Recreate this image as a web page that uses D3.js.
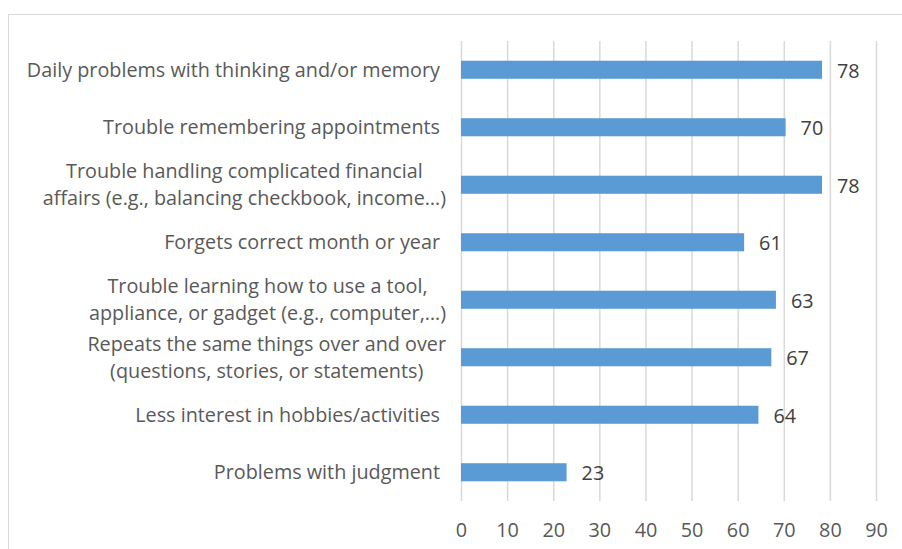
<!DOCTYPE html>
<html>
<head>
<meta charset="utf-8">
<script src="https://cdn.jsdelivr.net/npm/d3@7"></script>
<style>
  body { margin: 0; background: #fff; }
  text { font-family: "Open Sans", "Noto Sans", sans-serif; fill: #595959; }
</style>
</head>
<body>
<div id="app"></div>
<script>
// categories, top to bottom (wrapped the way the original wraps them)
const categories = [
  ["Daily problems with thinking and/or memory"],
  ["Trouble remembering appointments"],
  ["Trouble handling complicated financial", "affairs (e.g., balancing checkbook, income…)"],
  ["Forgets correct month or year"],
  ["Trouble learning how to use a tool,", "appliance, or gadget (e.g., computer,…)"],
  ["Repeats the same things over and over", "(questions, stories, or statements)"],
  ["Less interest in hobbies/activities"],
  ["Problems with judgment"]
]
// bar lengths as drawn
const values = [78.3, 70.4, 78.3, 61.4, 68.3, 67.3, 64.5, 22.9]
// data labels as printed next to the bars
const dataLabels = ["78", "70", "78", "61", "63", "67", "64", "23"]
const xTicks = [0, 10, 20, 30, 40, 50, 60, 70, 80, 90]

const width = 902
const height = 549
const marginLeft = 461
const marginRight = 26
const marginTop = 41
const marginBottom = 48
const fontSize = 19.8

const svg = d3.select('#app')
  .append('svg')
  .attr('width', width)
  .attr('height', height)

// chart frame
svg.append('rect')
  .attr('x', 8.5).attr('y', 14.5)
  .attr('width', 910).attr('height', 560)
  .attr('fill', 'none')
  .attr('stroke', '#d9d9d9')

const x = d3.scaleLinear()
  .domain([0, 90])
  .range([marginLeft, width - marginRight])

const y = d3.scaleBand()
  .domain(d3.range(categories.length))
  .range([marginTop, height - marginBottom])
  .paddingInner(0.686)
  .paddingOuter(0.343)

// gridlines
svg.append('g')
  .selectAll('line')
  .data(xTicks)
  .join('line')
  .attr('x1', d => x(d) + 0.5)
  .attr('x2', d => x(d) + 0.5)
  .attr('y1', marginTop)
  .attr('y2', height - marginBottom)
  .attr('stroke', '#d9d9d9')
  .attr('stroke-width', 1.5)

// x axis labels
const xAxis = svg.append('g')
  .attr('transform', `translate(0,${height - marginBottom})`)
  .call(d3.axisBottom(x).tickValues(xTicks).tickSize(0).tickPadding(22))
xAxis.select('.domain').remove()
xAxis.selectAll('text')
  .attr('font-size', fontSize)
  .attr('font-family', null)
  .attr('fill', null)

// bars
svg.append('g')
  .selectAll('rect')
  .data(values)
  .join('rect')
  .attr('x', x(0))
  .attr('y', (d, i) => y(i))
  .attr('width', d => x(d) - x(0))
  .attr('height', y.bandwidth())
  .attr('fill', '#5b9bd5')

// data labels
svg.append('g')
  .selectAll('text')
  .data(values)
  .join('text')
  .attr('x', d => x(d) + 15)
  .attr('y', (d, i) => y(i) + y.bandwidth() / 2 + 1)
  .attr('dy', '0.35em')
  .attr('font-size', fontSize)
  .style('fill', '#404040')
  .text((d, i) => dataLabels[i])

// category labels, lines centred within each block
const lineHeight = 27
const labelGroups = svg.append('g')
  .selectAll('g')
  .data(categories)
  .join('g')

labelGroups.each(function (lines, i) {
  const g = d3.select(this)
  const cy = y(i) + y.bandwidth() / 2
  const texts = g.selectAll('text')
    .data(lines)
    .join('text')
    .attr('font-size', fontSize)
    .attr('text-anchor', 'middle')
    .attr('y', (d, j) => cy + (j - (lines.length - 1) / 2) * lineHeight)
    .attr('dy', '0.35em')
    .text(d => d)
  const maxW = d3.max(texts.nodes(), n => n.getComputedTextLength())
  const right = lines.length > 1 ? 446 : 440
  texts.attr('x', right - maxW / 2)
})
</script>
</body>
</html>
